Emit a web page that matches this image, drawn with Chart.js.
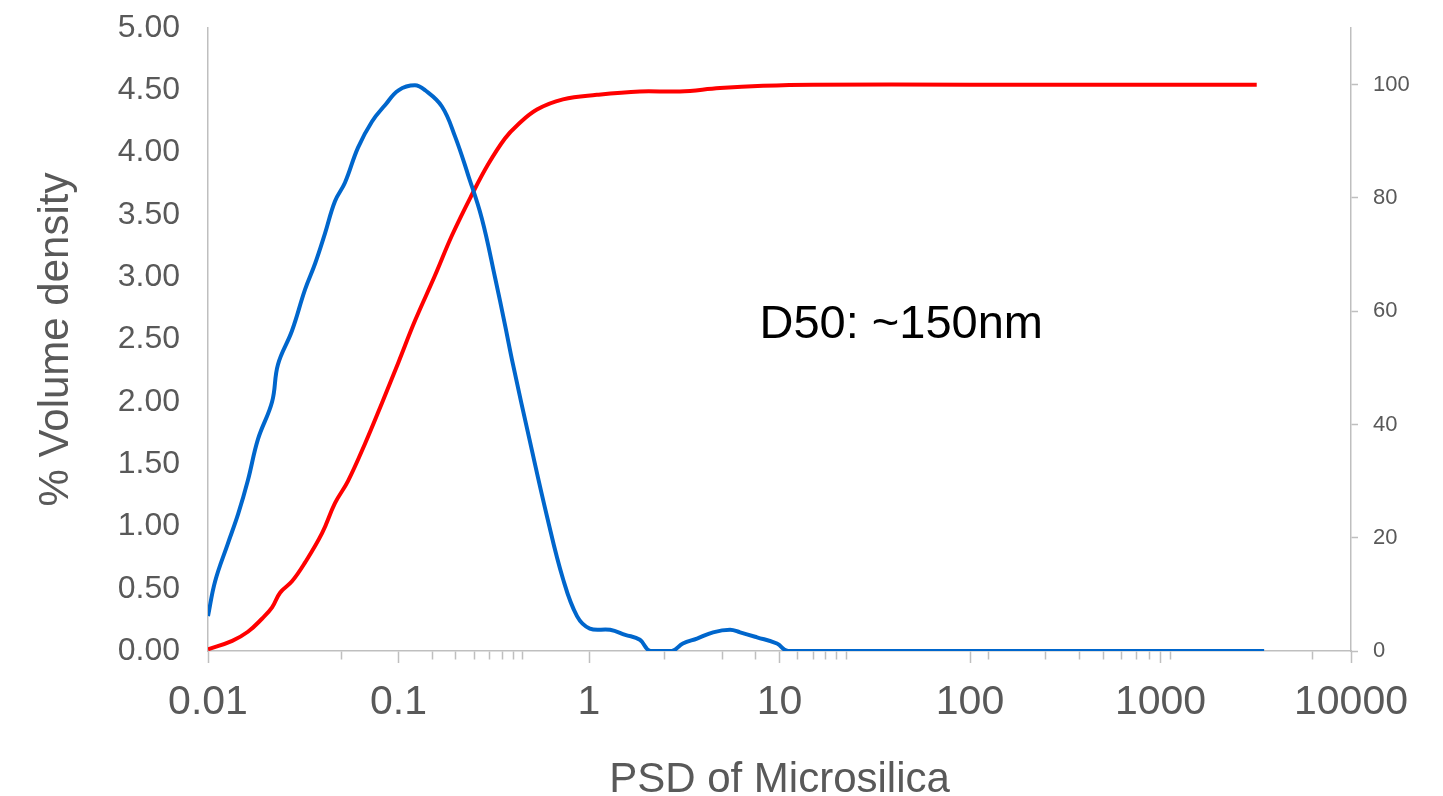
<!DOCTYPE html>
<html>
<head>
<meta charset="utf-8">
<title>PSD of Microsilica</title>
<script src="https://cdn.jsdelivr.net/npm/chart.js@4"></script>
<style>
  html, body { margin: 0; padding: 0; background: #fff; }
  #wrap { width: 1443px; height: 796px; position: relative; }
</style>
</head>
<body>
<div id="wrap"><canvas id="psdChart"></canvas></div>
<script>
// particle size (um) and % volume density
const densitySizes = [0.01, 0.0109, 0.0127, 0.0144, 0.0162, 0.0183, 0.0217, 0.0233, 0.0276, 0.0323,
  0.0365, 0.0411, 0.0464, 0.0524, 0.0613, 0.0726, 0.0849, 0.1, 0.122, 0.138,
  0.169, 0.198, 0.232, 0.274, 0.321, 0.362, 0.399, 0.49, 0.602, 0.73,
  0.865, 1.01, 1.29, 1.55, 1.85, 2.09, 2.73, 3.11, 3.69, 4.48,
  5.5, 6.21, 7.62, 9.7, 11.1, 100, 1000, 3500];
const densityValues = [0.28, 0.56, 0.86, 1.10, 1.37, 1.70, 2.00, 2.30, 2.57, 2.90,
  3.11, 3.35, 3.61, 3.76, 4.04, 4.25, 4.38, 4.50, 4.54, 4.50,
  4.37, 4.13, 3.82, 3.47, 3.00, 2.62, 2.30, 1.68, 1.08, 0.58,
  0.28, 0.18, 0.17, 0.13, 0.09, 0, 0, 0.06, 0.10, 0.15,
  0.17, 0.15, 0.11, 0.06, 0, 0, 0, 0];

// cumulative % passing, red curve (right axis)
const cumulativeSizes = [0.01, 0.0134, 0.0162, 0.0192, 0.0217, 0.0239, 0.0276, 0.0323, 0.0397, 0.0464,
  0.0543, 0.0667, 0.0819, 0.1, 0.122, 0.155, 0.191, 0.243, 0.295, 0.362,
  0.419, 0.533, 0.73, 1.1, 1.85, 3.0, 4.87, 8.19, 15, 100, 1000, 3200];
const cumulativeValues = [0.3, 1.8, 3.4, 5.7, 7.7, 10.3, 12.3, 15.6, 20.8, 26.1,
  30.0, 36.6, 43.8, 51.0, 58.3, 66.2, 73.4, 80.6, 85.9, 90.5,
  92.8, 95.6, 97.4, 98.2, 98.8, 98.8, 99.4, 99.8, 100, 100, 100, 100];

// axis ticks
const xMajorTicks = [0.01, 0.1, 1, 10, 100, 1000, 10000];
const xMinorTicks = [0.05, 0.15, 0.2, 0.25, 0.3, 0.35, 0.4, 0.45, 2.5, 5, 7.5,
  12.5, 15, 17.5, 20, 22.5, 125, 250, 375, 500, 625, 750, 875, 1125, 6250];
const leftTicks = [0, 0.5, 1, 1.5, 2, 2.5, 3, 3.5, 4, 4.5, 5];
const rightTicks = [0, 20, 40, 60, 80, 100];

const annotationText = 'D50: ~150nm';

Chart.defaults.font.family = '"Liberation Sans", Arial, sans-serif';
Chart.defaults.color = '#595959';

const axisGrey = '#bfbfbf';

const d50Label = {
  id: 'd50Label',
  afterDatasetsDraw(chart) {
    const { ctx, scales } = chart;
    ctx.save();
    ctx.font = '47px "Liberation Sans", Arial, sans-serif';
    ctx.fillStyle = '#000';
    ctx.textBaseline = 'middle';
    ctx.fillText(annotationText, scales.x.getPixelForValue(7.85), scales.y.getPixelForValue(2.62));
    ctx.restore();
  }
};

const toPoints = (xs, ys) => xs.map((x, i) => ({ x: x, y: ys[i] }));

// vertical axes: fixed width, and don't let label padding push the plot down
const fixWidth = w => scale => {
  scale.width = w;
  scale.paddingTop = 0;
  scale.paddingBottom = 0;
};

new Chart(document.getElementById('psdChart'), {
  type: 'line',
  data: {
    datasets: [{
      label: '% Volume density',
      data: toPoints(densitySizes, densityValues),
      borderColor: '#0066cc',
      borderWidth: 4,
      pointRadius: 0,
      tension: 0.4,
      yAxisID: 'y'
    }, {
      label: 'Cumulative',
      data: toPoints(cumulativeSizes, cumulativeValues),
      borderColor: '#ff0000',
      borderWidth: 4,
      pointRadius: 0,
      tension: 0.4,
      yAxisID: 'y1'
    }]
  },
  options: {
    responsive: true,
    maintainAspectRatio: false,
    animation: false,
    layout: { padding: { top: 28, left: 0, right: 0, bottom: 0 } },
    plugins: { legend: { display: false }, tooltip: { enabled: false } },
    scales: {
      x: {
        type: 'logarithmic',
        min: 0.01,
        max: 10000,
        afterBuildTicks: scale => {
          scale.ticks = xMajorTicks.concat(xMinorTicks)
            .sort((a, b) => a - b)
            .map(v => ({ value: v, major: xMajorTicks.includes(v) }));
        },
        afterFit: scale => { scale.height = 145; },
        ticks: {
          autoSkip: false,
          maxRotation: 0,
          padding: 15,
          font: { size: 41 },
          callback: v => xMajorTicks.includes(v) ? String(v) : ''
        },
        grid: {
          drawOnChartArea: false,
          tickLength: 12,
          tickColor: axisGrey,
          tickWidth: 1.5,
          tickBorderDash: ctx => (ctx.tick && xMajorTicks.includes(ctx.tick.value)) ? [] : [8, 40]
        },
        border: { color: axisGrey, width: 1.5 },
        title: {
          display: true,
          text: 'PSD of Microsilica',
          font: { size: 42 },
          padding: { top: 0, bottom: -10 }
        }
      },
      y: {
        position: 'left',
        min: 0,
        max: 5,
        afterBuildTicks: scale => { scale.ticks = leftTicks.map(v => ({ value: v })); },
        afterFit: fixWidth(208),
        ticks: {
          padding: 28,
          font: { size: 32 },
          callback: v => Number(v).toFixed(2)
        },
        grid: { drawOnChartArea: false, drawTicks: false },
        border: { color: axisGrey, width: 1.5 },
        title: {
          display: true,
          text: '% Volume density',
          font: { size: 42 },
          padding: { top: 31, bottom: 0 }
        }
      },
      y1: {
        position: 'right',
        min: 0,
        max: 110,
        afterBuildTicks: scale => { scale.ticks = rightTicks.map(v => ({ value: v })); },
        afterFit: fixWidth(92),
        ticks: { padding: 15, font: { size: 22 } },
        grid: { drawOnChartArea: false, tickLength: 7, tickColor: axisGrey, tickWidth: 1.5 },
        border: { color: axisGrey, width: 1.5 }
      }
    }
  },
  plugins: [d50Label]
});
</script>
</body>
</html>
